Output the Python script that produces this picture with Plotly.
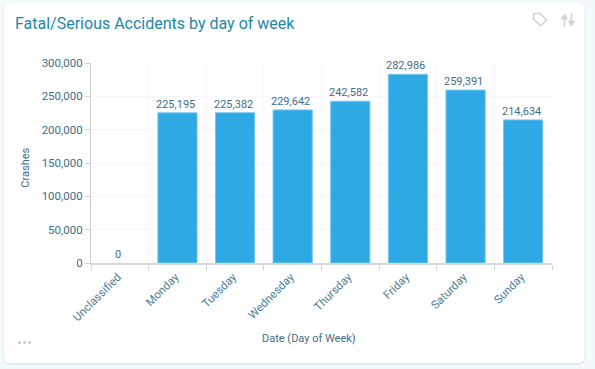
import plotly.graph_objects as go

W, H = 595, 369
L, R, T, B = 90.5, 552.5, 63, 263

categories = ["Unclassified", "Monday", "Tuesday", "Wednesday", "Thursday", "Friday", "Saturday", "Sunday"]
crashes = [0, 225195, 225382, 229642, 242582, 282986, 259391, 214634]
y_ticks = [0, 50000, 100000, 150000, 200000, 250000, 300000]

INK = "#3f6d88"
TEAL = "#1f88a5"

def px(x):
    return (x - L) / (R - L)

def py(y):
    return (B - y) / (B - T)

def rr(x0, y0, x1, y1, r):
    a, b, c, d = px(x0), px(x1), py(y0), py(y1)
    rx, ry = r / (R - L), r / (B - T)
    return (f"M{a+rx},{c} L{b-rx},{c} Q{b},{c} {b},{c-ry} L{b},{d+ry} Q{b},{d} {b-rx},{d} "
            f"L{a+rx},{d} Q{a},{d} {a},{d+ry} L{a},{c-ry} Q{a},{c} {a+rx},{c} Z")

def path(points, close=False):
    s = "M" + " L".join(f"{px(x)},{py(y)}" for x, y in points)
    return s + (" Z" if close else "")

shapes = [
    dict(type="path", xref="paper", yref="paper", layer="below", path=rr(2, 3, 586, 365, 7),
         fillcolor="#dcedf2", line_width=0),
    dict(type="path", xref="paper", yref="paper", layer="below", path=rr(3, 3, 585, 363, 6),
         fillcolor="#ffffff", line_width=0),
]
ICON = dict(type="path", xref="paper", yref="paper", line=dict(color="#d2d2d2", width=1.5), fillcolor="rgba(0,0,0,0)")
HEAD = dict(type="path", xref="paper", yref="paper", line=dict(color="#d2d2d2", width=1), fillcolor="#d2d2d2")
shapes += [
    dict(ICON, path=path([(534, 14), (540, 13), (547, 20), (541, 26), (534, 19)], True)),
    dict(ICON, path=path([(565, 27), (565, 16)])),
    dict(HEAD, path=path([(562, 19), (565, 14), (568, 19)], True)),
    dict(ICON, path=path([(572, 13), (572, 24)])),
    dict(HEAD, path=path([(569, 21), (572, 26), (575, 21)], True)),
]
for dot_x in (19, 24, 29):
    shapes.append(dict(type="circle", xref="paper", yref="paper", fillcolor="#c9c9c9", line_width=0,
                       x0=px(dot_x - 1.5), x1=px(dot_x + 1.5), y0=py(344), y1=py(341)))

value_labels = [
    dict(x=c, y=v, xref="x", yref="y", text=f"{v:,}", showarrow=False, xanchor="center", yanchor="bottom",
         xshift=-2, yshift=0, font=dict(family="Roboto", size=11, color=INK))
    for c, v in zip(categories, crashes)
]

fig = go.Figure(go.Bar(
    x=categories,
    y=crashes,
    marker=dict(color="#2ea9e3", line=dict(color="#74c6ee", width=[0 if v == 0 else 1 for v in crashes])),
    cliponaxis=False,
    hoverinfo="skip",
))

fig.update_layout(
    width=W, height=H, autosize=False,
    margin=dict(l=L, r=W - R, t=T, b=H - B, pad=0),
    paper_bgcolor="#f3fafc",
    plot_bgcolor="rgba(0,0,0,0)",
    font=dict(family="Roboto", size=11, color=INK),
    bargap=0.32,
    showlegend=False,
    shapes=shapes,
    title=dict(text="Fatal/Serious Accidents by day of week", x=15 / W, xanchor="left", xref="container",
               y=1 - 23 / H, yref="container", yanchor="middle",
               font=dict(family="Roboto", size=16, color=TEAL)),
    annotations=value_labels + [
        dict(text="Date (Day of Week)", xref="paper", yref="paper", x=px(308.5), y=py(338),
             showarrow=False, xanchor="center", yanchor="middle",
             font=dict(family="Roboto", size=11, color=INK)),
        dict(text="Crashes", xref="paper", yref="paper", x=px(24), y=py(168),
             showarrow=False, textangle=-90, xanchor="center", yanchor="middle",
             font=dict(family="Roboto", size=11, color=INK)),
    ],
    xaxis=dict(
        type="category", tickson="boundaries", tickangle=-45, ticks="outside", ticklen=5,
        tickcolor="#d4d4d4", showgrid=True, gridcolor="#f6f6fc", showline=True, linecolor="#d8d8d8",
        linewidth=1.5, tickfont=dict(family="Roboto", size=11.5, color="#4f7d98"), automargin=False,
        ticklabelshift=-2, ticklabelstandoff=1,
    ),
    yaxis=dict(
        range=[0, 300000], tickvals=y_ticks, ticktext=[f"{v:,}" for v in y_ticks], ticks="outside", ticklen=5,
        tickcolor="#d4d4d4", showgrid=True, gridcolor="#f6f6fc", showline=True, linecolor="#cfcfcf",
        linewidth=1, zeroline=False, tickfont=dict(family="Roboto", size=11.5, color=INK), automargin=False,
    ),
)

fig.write_html("out.html", config={"displayModeBar": False},
               post_script="document.body.style.margin='0';document.body.style.overflow='hidden';")
